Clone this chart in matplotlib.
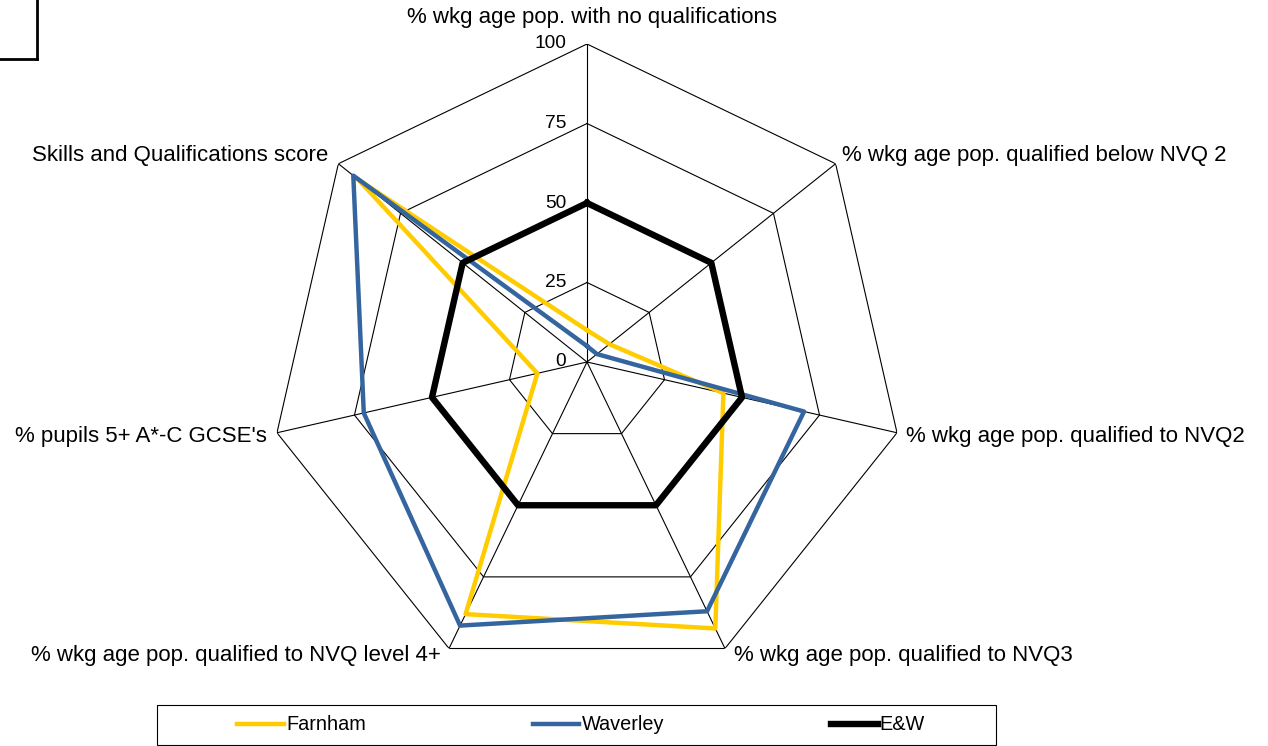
import numpy as np
import matplotlib.pyplot as plt
from matplotlib.lines import Line2D
from matplotlib.patches import Rectangle

plt.rcParams['font.family'] = ['Liberation Sans', 'DejaVu Sans']

categories = ['% wkg age pop. with no qualifications',
              '% wkg age pop. qualified below NVQ 2',
              '% wkg age pop. qualified to NVQ2',
              '% wkg age pop. qualified to NVQ3',
              '% wkg age pop. qualified to NVQ level 4+',
              "% pupils 5+ A*-C GCSE's",
              'Skills and Qualifications score']
farnham = [10, 9, 44, 93, 88, 16, 92]
waverley = [5, 4, 70, 87, 92, 72, 94]
eandw = [50, 50, 50, 50, 50, 50, 50]
ticks = [0, 25, 50, 75, 100]

W, H = 1268, 746
fig = plt.figure(figsize=(W / 100, H / 100), dpi=100)
cx, cy, R = 587, 362, 318
ax = fig.add_axes([(cx - R) / W, (H - cy - R) / H, 2 * R / W, 2 * R / H], projection='polar')
ax.set_theta_zero_location('N')
ax.set_theta_direction(-1)

n = len(categories)
ang = np.arange(n) * 2 * np.pi / n
ang_c = np.append(ang, ang[0])

def closed(v):
    return np.append(v, v[0])

# polygon grid
for t in ticks[1:]:
    ax.plot(ang_c, [t] * (n + 1), color='black', lw=0.8, zorder=1)
for a in ang:
    ax.plot([a, a], [0, 100], color='black', lw=0.8, zorder=1)

ax.plot(ang_c, closed(farnham), color='#FFCC00', lw=3.2, zorder=2)
ax.plot(ang_c, closed(waverley), color='#35659F', lw=3.2, zorder=3)
ax.plot(ang_c, closed(eandw), color='black', lw=4.6, zorder=4)

ax.set_ylim(0, 100)
ax.set_xticks([])
ax.set_yticks([])
ax.grid(False)
ax.spines['polar'].set_visible(False)
ax.patch.set_visible(False)

for t in ticks:
    ax.annotate(str(t), (0, t), xytext=(-21, 0), textcoords='offset pixels',
                ha='right', va='center', fontsize=13.8)

offs = [((5, 27), 'center'), ((6, 8), 'left'), ((9, -4), 'left'), ((9, -7), 'left'),
        ((-8, -7), 'right'), ((-10, -4), 'right'), ((-10, 8), 'right')]
for a, lab, (o, ha) in zip(ang, categories, offs):
    ax.annotate(lab, (a, 100), xytext=o, textcoords='offset pixels',
                ha=ha, va='center', fontsize=16, annotation_clip=False)

handles = [Line2D([], [], color='#FFCC00', lw=3.2),
           Line2D([], [], color='#35659F', lw=3.2),
           Line2D([], [], color='black', lw=4.6)]
fig.legend(handles, ['Farnham', 'Waverley', 'E&W'], loc='center',
           bbox_to_anchor=(581 / W, 1 - 725 / H), ncol=3, frameon=False,
           handlelength=2.36, handletextpad=0.1, columnspacing=8.4, fontsize=14.3)
fig.add_artist(Rectangle((157 / W, 1 / H), 839 / W, 40 / H, transform=fig.transFigure,
                         fill=False, lw=0.8, ec='black'))

# stray box in the corner
fig.add_artist(Line2D([37 / W, 37 / W], [1, 1 - 59 / H], color='black', lw=2))
fig.add_artist(Line2D([0, 37 / W], [1 - 59 / H, 1 - 59 / H], color='black', lw=2))

fig.savefig('out.png', dpi=100)
